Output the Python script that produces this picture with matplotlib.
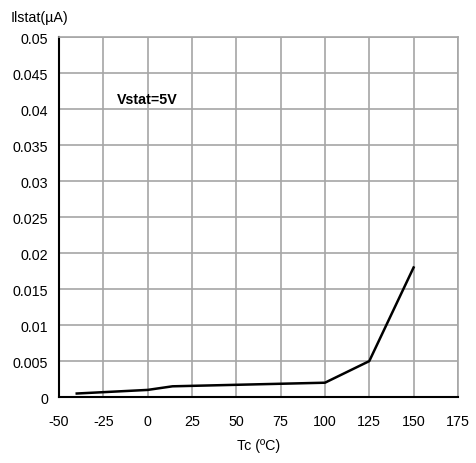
import matplotlib
matplotlib.use('Agg')
import matplotlib.pyplot as plt

plt.rcParams['font.family'] = ['Liberation Sans', 'DejaVu Sans']
plt.rcParams['axes.unicode_minus'] = False

# Ilstat vs Tc
tc = [-40, 0, 14, 100, 125, 150]
ilstat = [0.0005, 0.001, 0.0015, 0.002, 0.005, 0.018]

x_ticks = [-50, -25, 0, 25, 50, 75, 100, 125, 150, 175]
y_ticks = [0, 0.005, 0.01, 0.015, 0.02, 0.025, 0.03, 0.035, 0.04, 0.045, 0.05]
y_labels = ['0', '0.005', '0.01', '0.015', '0.02', '0.025', '0.03', '0.035', '0.04', '0.045', '0.05']

fig = plt.figure(figsize=(4.76, 4.64), dpi=100)
ax = fig.add_axes([0.124, 0.142, 0.838, 0.776])

ax.plot(tc, ilstat, color='black', linewidth=1.8, zorder=3)

ax.set_xlim(-50, 175)
ax.set_ylim(0, 0.05)
ax.set_xticks(x_ticks)
ax.set_yticks(y_ticks)
ax.set_yticklabels(y_labels)
ax.tick_params(length=0, labelsize=10.3)
ax.tick_params(axis='y', pad=8)
ax.tick_params(axis='x', pad=12)
ax.grid(True, color='#a6a6a6', linewidth=1.2)
ax.set_axisbelow(True)

for s in ['top', 'right']:
    ax.spines[s].set_color('#a6a6a6')
    ax.spines[s].set_linewidth(1.2)
for s in ['left', 'bottom']:
    ax.spines[s].set_color('black')
    ax.spines[s].set_linewidth(1.5)

ax.text(0, 0.0414, 'Vstat=5V', fontsize=10.3, fontweight='bold', ha='center', va='center')
ax.set_xlabel('Tc (ºC)', fontsize=10.3, labelpad=7)
fig.text(0.023, 0.962, 'Ilstat(µA)', fontsize=10.3, ha='left', va='center')

fig.savefig('out.png', dpi=100)
